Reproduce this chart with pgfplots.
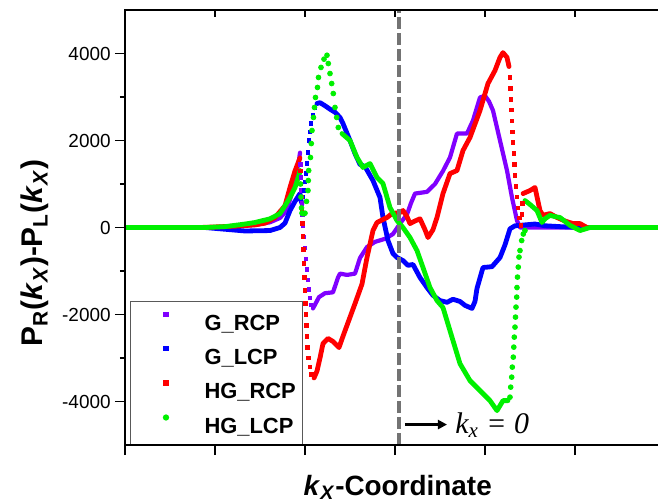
\documentclass[border=0pt]{standalone}
\usepackage{fontspec}
\setmainfont{Liberation Sans}
\newfontfamily\timesfont{Liberation Serif}
\usepackage{pgfplots}
\pgfplotsset{compat=1.18}
\usetikzlibrary{arrows.meta}

\definecolor{gviolet}{RGB}{128,0,255}
\definecolor{gblue}{RGB}{0,0,255}
\definecolor{hgred}{RGB}{255,0,0}
\definecolor{hggreen}{RGB}{0,240,0}
\definecolor{dashgray}{RGB}{115,115,115}

\pgfplotsset{
  solidpart/.style={forget plot, mark=none, line width=2.4bp, line join=round, line cap=round},
  dotsq/.style={forget plot, only marks, mark=square*, mark size=0.9bp},
  dotci/.style={forget plot, only marks, mark=*, mark size=1.2bp},
}

\begin{document}
\begin{tikzpicture}
\path[use as bounding box] (-62.5bp,-29.5bp) rectangle (266.5bp,222.5bp);
\begin{axis}[
  at={(0,0)}, anchor=south west,
  scale only axis, width=270bp, height=217.5bp,
  xmin=-270, xmax=270, ymin=-5000, ymax=5000,
  xtick={-270,-180,-90,0,90,180,270}, xticklabels=\empty,
  ytick={-4000,-2000,0,2000,4000},
  yticklabels={-4000,-2000,0,2000,4000},
  minor ytick={-3000,-1000,1000,3000},
  tick align=outside, xtick pos=left, ytick pos=left,
  major tick length=5bp, minor tick length=2.5bp,
  tick style={black, line width=0.8bp},
  axis line style={black, line width=0.9bp},
  tick label style={font=\fontsize{9.5}{11}\selectfont},
  yticklabel style={inner xsep=2bp},
  xlabel={\textit{k}\textsubscript{\textit{X}}-Coordinate},
  xlabel style={at={(axis description cs:0.505,0)}, anchor=base, yshift=-25bp,
    font=\fontsize{14}{16}\selectfont\bfseries},
  ylabel={P\textsubscript{R}(\textit{k}\textsubscript{\textit{X}})-P\textsubscript{L}(\textit{k}\textsubscript{\textit{X}})},
  ylabel style={at={(axis description cs:0,0.441)}, anchor=base, yshift=41bp,
    font=\fontsize{15}{17}\selectfont\bfseries},
  legend image code/.code={\path (-14bp,0) (14bp,0); \draw[#1] plot coordinates {(0bp,4bp)};},
  legend cell align=left,
  legend style={at={(axis description cs:0.0093,0)}, anchor=south west,
    draw=black!65, line width=0.5bp, fill=white,
    inner xsep=3.5bp, inner ysep=5.5bp, row sep=8bp, column sep=5bp,
    font=\fontsize{11}{13}\selectfont\bfseries,
    nodes={inner sep=0pt, text height=8bp, text depth=0bp}},
]
\addlegendimage{only marks, mark=square*, mark size=1.1bp, color=gviolet}
\addlegendentry{G\_RCP}
\addlegendimage{only marks, mark=square*, mark size=1.1bp, color=gblue}
\addlegendentry{G\_LCP}
\addlegendimage{only marks, mark=square*, mark size=1.1bp, color=hgred}
\addlegendentry{HG\_RCP}
\addlegendimage{only marks, mark=*, mark size=1.3bp, color=hggreen}
\addlegendentry{HG\_LCP}

% G_RCP
\addplot[solidpart, gviolet, line width=2.1bp] coordinates {
 (-270,0) (-190,0) (-160,20) (-140,60) (-125,120) (-115,220) (-108,400) (-103,800) (-99,1200) (-96,1550) (-95,1720)};
\addplot[dotsq, gviolet] coordinates {
 (-94.5,1450) (-94,1150) (-93.5,850) (-93,560) (-92.5,300) (-92,40) (-91,-220) (-90,-470) (-89,-720) (-88,-960) (-87,-1200) (-86,-1420) (-85,-1620) (-84,-1780)};
\addplot[solidpart, gviolet, line width=2.1bp] coordinates {
 (-82,-1860) (-76,-1600) (-70,-1510) (-62,-1490) (-57,-1150) (-55,-1060) (-48,-1090) (-40,-1060) (-35,-700) (-28,-450) (-20,-330) (-10,-260) (-2,-150) (5,90) (12,300) (16,560) (20,780) (32,820) (40,1000) (48,1300) (55,1610) (62,2160) (72,2160) (78,2460) (85,2990) (90,3030) (94,2900) (98,2690) (105,2000) (112,1310) (117,690) (122,160) (125,0) (140,0) (270,0)};

% G_LCP
\addplot[solidpart, gblue] coordinates {
 (-270,0) (-190,0) (-170,-40) (-150,-80) (-125,-70) (-115,0) (-110,100) (-105,390) (-100,600) (-95,780) (-94,620) (-93,550)};
\addplot[dotsq, gblue] coordinates {
 (-92,700) (-91,850) (-90,1050) (-89,1250) (-88,1470) (-87,1730) (-86,2000) (-85,2200) (-84,2400) (-82,2580) (-80,2750)};
\addplot[solidpart, gblue] coordinates {
 (-78,2850) (-75,2870) (-70,2800) (-65,2720) (-60,2650) (-55,2530) (-52,2390) (-45,2000) (-40,1700) (-35,1450) (-30,1400) (-25,1200) (-22,1080) (-15,690) (-12,230) (-7,-300) (-2,-600) (2,-690) (8,-760) (13,-870) (18,-850) (25,-1150) (32,-1380) (38,-1560) (45,-1680) (52,-1720) (58,-1650) (65,-1700) (70,-1790) (77,-1860) (80,-1700) (82,-1400) (88,-920) (97,-900) (105,-690) (110,-400) (115,-30) (120,40) (130,60) (140,80) (150,40) (165,20) (185,0) (270,0)};

% HG_RCP
\addplot[solidpart, hgred] coordinates {
 (-270,0) (-195,0) (-160,30) (-140,60) (-130,100) (-120,230) (-110,500) (-105,920) (-100,1300) (-95,1600)};
\addplot[dotsq, hgred] coordinates {
 (-94.5,1300) (-94,1000) (-93.5,700) (-93,400) (-92.5,100) (-92,-200) (-91.5,-500) (-91,-830) (-90.5,-1150) (-90,-1450) (-89.5,-1750) (-89,-2000) (-88.5,-2250) (-88,-2500) (-87.5,-2760) (-86.5,-3000) (-85,-3200) (-83.5,-3380)};
\addplot[solidpart, hgred] coordinates {
 (-81,-3460) (-78,-3300) (-75,-3000) (-72,-2670) (-67,-2550) (-62,-2620) (-56,-2760) (-52,-2500) (-48,-2250) (-40,-1750) (-33,-1300) (-28,-690) (-22,-70) (-18,115) (-8,230) (-3,320) (5,345) (8,390) (12,250) (15,90) (20,150) (25,200) (30,-50) (33,-230) (38,-50) (42,230) (48,780) (55,1240) (62,1310) (68,1770) (75,2070) (85,2690) (93,3310) (100,3610) (105,3910) (108,4020) (112,3910) (114,3700)};
\addplot[dotsq, hgred] coordinates {
 (115,3450) (115.5,3200) (116,2950) (116.5,2700) (117,2450) (117.5,2200) (118,1950) (119,1700) (119.5,1450) (120,1200) (121,950) (122,700) (123,450) (124.5,220) (126,50) (127,300) (127.5,550)};
\addplot[solidpart, hgred] coordinates {
 (128,780) (135,850) (140,920) (145,390) (148,280) (155,320) (162,230) (170,150) (178,90) (185,90) (192,0) (270,0)};

% HG_LCP
\addplot[solidpart, hggreen] coordinates {
 (-270,0) (-190,0) (-170,20) (-150,80) (-140,115) (-125,200) (-115,320) (-110,500) (-105,690) (-100,920) (-96,1200) (-95,1310)};
\addplot[dotci, hggreen] coordinates {
 (-94.5,1000) (-94,700) (-93.5,450) (-93,330) (-92,320) (-91,320) (-90,330) (-88.5,600) (-87,850) (-86.7,1080) (-86.3,1310) (-84.5,1610) (-83.7,1930) (-83,2230) (-81.5,2530) (-80.5,2760) (-79.5,2990) (-77.5,3220) (-76.5,3450) (-74,3680) (-71,3870) (-68,3960) (-66.7,3770) (-65,3540) (-63.3,3310) (-61.7,3080) (-60,2760) (-58.3,2530) (-56.7,2300)};
\addplot[solidpart, hggreen] coordinates {
 (-53,2160) (-45,2000) (-38,1610) (-32,1380) (-25,1470) (-18,1150) (-12,1010) (-5,460) (2,160) (8,0) (15,-230) (22,-530) (28,-920) (35,-1380) (42,-1680) (48,-1840) (58,-2600) (65,-3130) (75,-3520) (85,-3750) (95,-3980) (102,-4210) (108,-3980) (113,-3980)};
\addplot[dotci, hggreen] coordinates {
 (115,-3900) (115.7,-3670) (116.7,-3440) (117.3,-3210) (118.3,-2980) (118.8,-2750) (119.3,-2520) (120,-2290) (120.5,-2060) (121,-1830) (121.7,-1600) (122,-1380) (122.5,-1140) (123.3,-910) (124,-680) (125,-530) (126.7,-300) (128.3,-150) (130,-70)};
\addplot[solidpart, hggreen] coordinates {
 (130,620) (135,530) (142,390) (147,115) (150,200) (155,280) (160,250) (165,230) (175,50) (185,-70) (195,0) (270,0)};

% k_x = 0 marker
\draw[dashgray, line width=1.6bp, dash pattern=on 6bp off 2bp] (axis cs:4,-5000) -- (axis cs:4,5000);
\draw[-{Triangle[length=4.5bp,width=4.5bp]}, line width=1.4bp] (axis cs:10,-4530) -- (axis cs:52,-4530);
\node[anchor=base west, inner sep=0pt] at (axis cs:60,-4740)
  {\timesfont\itshape\fontsize{15}{17}\selectfont k\textsubscript{x} = 0};
\end{axis}
% mirrored ticks on top and right point inwards
\begin{axis}[
  at={(0,0)}, anchor=south west,
  scale only axis, width=270bp, height=217.5bp,
  xmin=-270, xmax=270, ymin=-5000, ymax=5000,
  xtick={-270,-180,-90,0,90,180,270}, xticklabels=\empty,
  ytick={-4000,-2000,0,2000,4000}, yticklabels=\empty,
  minor ytick={-3000,-1000,1000,3000},
  tick align=inside, xtick pos=right, ytick pos=right,
  major tick length=3.5bp, minor tick length=2bp,
  tick style={black, line width=0.8bp},
  axis line style={black, line width=0.9bp},
]
\end{axis}
\end{tikzpicture}
\end{document}
